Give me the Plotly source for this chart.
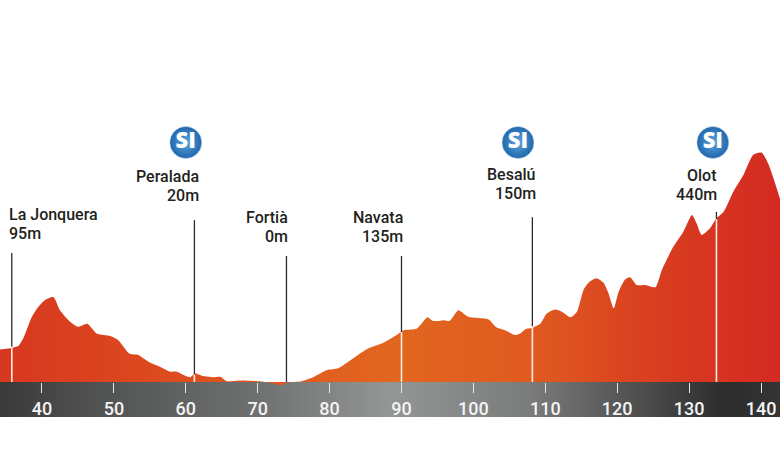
import plotly.graph_objects as go

# stage profile, km / metres
profile_km = [34.16, 35.8, 36.7, 37.4, 38.6, 39.5, 40.4, 41.6, 42.5, 43.9, 45.05, 46.3, 47.6, 49.5, 50.6, 52.2,
              53.4, 54.8, 56.2, 57.8, 58.7, 60.6, 61.3, 62.4, 63.8, 64.8, 65.7, 67.5, 70.3, 72.2, 73.3, 74.0,
              76.1, 77.7, 79.6, 81.2, 83.3, 85.4, 87.5, 89.3, 90.3, 92.1, 93.0, 93.6, 94.4, 95.3, 95.9, 96.7,
              97.9, 99.3, 102.1, 103.2, 104.4, 105.8, 106.5, 107.2, 108.3, 109.3, 110.2, 111.35, 112.3, 113.5,
              114.4, 115.3, 116.0, 117.1, 118.1, 118.8, 119.5, 120.2, 121.1, 121.8, 122.7, 123.9, 125.3, 126.2,
              127.8, 129.2, 130.4, 131.05, 131.75, 132.9, 133.8, 134.8, 136.15, 137.55, 138.9, 140.1, 141.0, 142.7]
profile_m = [88, 92, 97, 118, 176, 203, 221, 229, 194, 163, 149, 157, 131, 124, 113, 76,
             73, 55, 43, 28, 28, 13, 23, 16, 13, 14, 2, 4, 2, -4, -9, -2,
             2, 13, 32, 37, 64, 91, 106, 127, 140, 144, 163, 175, 165, 165, 167, 165,
             194, 176, 169, 148, 140, 127, 131, 142, 147, 157, 185, 196, 190, 175,
             190, 248, 268, 280, 268, 239, 199, 244, 277, 283, 262, 262, 256, 302,
             365, 406, 451, 428, 397, 415, 442, 460, 514, 559, 613, 619, 590, 491]

place_names = ["La Jonquera", "Peralada", "Fortià", "Navata", "Besalú", "Olot"]
place_km = [35.8, 61.2, 74.0, 90.0, 108.2, 133.8]
place_m = [95, 20, 0, 135, 150, 440]

sprint_km = [60.0, 106.2, 133.3]
km_ticks = [40, 50, 60, 70, 80, 90, 100, 110, 120, 130, 140]

W, H = 780, 470
BASE = 382       # pixel row of 0 m
M_PER_PX = 2.7
XMIN, XMAX = 34.16, 142.64
y_range = [(BASE - H) * M_PER_PX, BASE * M_PER_PX]

pole_tops = [348, 437, 340, 340, 445, 459]
name_px = [214.5, 176.5, 217.5, 217.5, 174.5, 175]
height_px = [233.5, 195.5, 236.5, 236.5, 193.5, 194]
right_px = [9, 199, 288, 403, 536, 717]
TEXT = "#231f20"
FONT = "Roboto"

fig = go.Figure()

# grey km band
fig.add_trace(go.Scatter(
    x=[XMIN, XMAX, XMAX, XMIN, XMIN], y=[0, 0, -35 * M_PER_PX, -35 * M_PER_PX, 0],
    mode="none", fill="toself", hoverinfo="skip",
    fillgradient=dict(type="horizontal", colorscale=[
        [0, "#3a3a3a"], [0.12, "#505151"], [0.33, "#6f7070"], [0.5, "#949595"],
        [0.68, "#7a7b7b"], [0.85, "#454545"], [0.93, "#2c2c2c"], [1, "#343434"]]),
))

# the mountain
fig.add_trace(go.Scatter(
    x=profile_km, y=profile_m, mode="lines", fill="tozeroy", hoverinfo="skip",
    line=dict(width=0, shape="spline", smoothing=0.6),
    fillgradient=dict(type="horizontal", colorscale=[
        [0, "#d8371f"], [0.2, "#dc4a1f"], [0.5, "#e2661f"], [0.68, "#e05a20"],
        [0.85, "#d83c20"], [1, "#d42a22"]]),
))

# poles: black above the road, white below
for km, m, top in zip(place_km, place_m, pole_tops):
    fig.add_trace(go.Scatter(x=[km, km], y=[m, top], mode="lines", hoverinfo="skip",
                             line=dict(color="#2b2a29", width=1.3)))
    fig.add_trace(go.Scatter(x=[km, km], y=[0, m], mode="lines", hoverinfo="skip",
                             line=dict(color="#fbeee0", width=1.6)))

# SI sprint badges
fig.add_trace(go.Scatter(
    x=sprint_km, y=[(BASE - 142.5) * M_PER_PX] * 3, mode="markers+text", text=["SI"] * 3,
    textposition="middle center", hoverinfo="skip",
    textfont=dict(family="Open Sans", size=22, color="white", weight=800),
    marker=dict(size=32, color="#1f67ad", line=dict(color="#dfe9f3", width=0.5),
                gradient=dict(type="radial", color="#5fa4dc")),
))

for i, name in enumerate(place_names):
    first = i == 0
    for txt, py in ((name, name_px[i]), (f"{place_m[i]}m", height_px[i])):
        fig.add_annotation(
            xref="paper", yref="paper", x=right_px[i] / W,
            y=1 - py / H, text=txt, showarrow=False, borderpad=0, borderwidth=0,
            xanchor="left" if first else "right", yanchor="middle",
            font=dict(family=FONT, size=16, color=TEXT, weight=500),
        )

fig.update_layout(
    width=W, height=H, margin=dict(l=0, r=0, t=0, b=0, pad=0),
    paper_bgcolor="white", plot_bgcolor="white", showlegend=False,
    xaxis=dict(range=[XMIN, XMAX], tickvals=km_ticks, anchor="free", position=(H - BASE) / H,
               ticks="outside", ticklen=10, tickwidth=1.3, tickcolor="#e8e8e8",
               showgrid=False, zeroline=False, showline=False, automargin=False,
               tickfont=dict(family=FONT, size=18, color="#f4f4f4", weight=500)),
    yaxis=dict(range=y_range, visible=False, showgrid=False, zeroline=False, automargin=False),
)

# page margin off so the 780x470 figure fills the window
fig.write_html("out.html", config=dict(displayModeBar=False),
               post_script="document.body.style.margin = '0';")
